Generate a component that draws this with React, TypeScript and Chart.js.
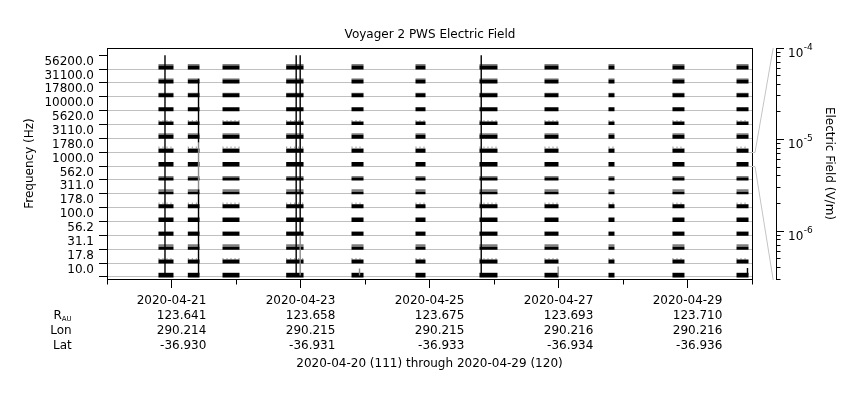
import React, { useEffect, useRef } from 'react';
import { Chart, registerables } from 'chart.js';

Chart.register(...registerables);
Chart.defaults.font.family = "'DejaVu Sans', sans-serif";
Chart.defaults.font.size = 12;
Chart.defaults.color = '#000';

// ---------------- data ----------------
const freqLabels = ['10.0', '17.8', '31.1', '56.2', '100.0', '178.0', '311.0', '562.0', '1000.0', '1780.0', '3110.0', '5620.0', '10000.0', '17800.0', '31100.0', '56200.0'];
// times in days since 2020-04-20 00:00
const burstStart = [0.798, 1.253, 1.791, 2.778, 3.791, 4.783, 5.775, 6.783, 7.775, 8.767, 9.760];
const burstEnd = [1.031, 1.434, 2.054, 3.047, 3.977, 4.938, 6.054, 7.000, 7.868, 8.953, 9.946];
// impulsive spikes: day, from band, to band, shade
const spikeDay = [0.899, 1.419, 1.419, 1.419, 2.933, 2.995, 2.995, 5.802, 3.915, 6.995, 9.930];
const spikeFrom = [0.0, 0.1, 6.3, 9.7, 0.1, 3.0, 0.1, 0.1, 0.1, 0.1, 0.1];
const spikeTo = [16.0, 6.3, 9.7, 14.3, 16.0, 16.0, 3.0, 16.0, 0.6, 0.75, 0.65];
const spikeShade = ['k', 'k', 'g', 'k', 'k', 'k', 'g', 'k', 'g', 'g', 'k'];
const dayTicks = [1, 3, 5, 7, 9];
const dayLabels = ['2020-04-21', '2020-04-23', '2020-04-25', '2020-04-27', '2020-04-29'];
const minorDays = [0, 2, 4, 6, 8, 10];
const rAU = ['123.641', '123.658', '123.675', '123.693', '123.710'];
const lonVals = ['290.214', '290.215', '290.215', '290.216', '290.216'];
const latVals = ['-36.930', '-36.931', '-36.933', '-36.934', '-36.936'];
const footerText = '2020-04-20 (111) through 2020-04-29 (120)';
const cbMajor = [1e-4, 1e-5, 1e-6];
const cbExp = ['-4', '-5', '-6'];
const cbMin = 3e-7;
const cbMax = 1e-4;
const wedgeLow = 8;
const wedgeHigh = 9;

// per-channel trace look (black core thickness, gray fringe, dotted fringe), bottom channel first
const chanStyle = [
  { k: 4.5, g: 0.5, d: false },
  { k: 4, g: 0, d: true },
  { k: 3, g: 2.5, d: false },
  { k: 4, g: 0.5, d: false },
  { k: 4, g: 1, d: false },
  { k: 4, g: 0, d: true },
  { k: 2.5, g: 2.5, d: false },
  { k: 3, g: 1.5, d: false },
  { k: 4.5, g: 0, d: false },
  { k: 4, g: 0.5, d: true },
  { k: 4, g: 1.5, d: false },
  { k: 3.5, g: 0, d: true },
  { k: 4, g: 0, d: false },
  { k: 4, g: 0.5, d: false },
  { k: 4, g: 1, d: false },
  { k: 4, g: 1.5, d: false },
];

const PX_PER_BAND = 13.857;

function buildDatasets(): any[] {
  const ds: any[] = [];
  const base = { pointRadius: 0, borderCapStyle: 'butt', spanGaps: false, tension: 0, fill: false, xAxisID: 'x', yAxisID: 'y' };
  const seg = (yv: number) =>
    burstStart.flatMap((s, i) => [
      { x: s, y: yv },
      { x: burstEnd[i], y: yv },
      { x: burstEnd[i], y: null },
    ]);
  const spikes = (shade: string) =>
    spikeDay.flatMap((d, i) =>
      spikeShade[i] === shade
        ? [
            { x: d, y: spikeFrom[i] },
            { x: d, y: spikeTo[i] },
            { x: d, y: null },
          ]
        : []
    );
  ds.push({ ...base, data: spikes('k'), borderColor: '#000', borderWidth: 1.4 });
  ds.push({ ...base, data: spikes('g'), borderColor: '#8a8a8a', borderWidth: 1.4 });
  chanStyle.forEach((st, c) => {
    ds.push({ ...base, data: seg(c + (st.k / 2 - 0.5) / PX_PER_BAND), borderColor: '#000', borderWidth: st.k });
    if (st.g > 0) {
      ds.push({ ...base, data: seg(c + (st.k + st.g / 2 - 0.5) / PX_PER_BAND), borderColor: '#808080', borderWidth: st.g });
    }
    if (st.d) {
      ds.push({ ...base, data: seg(c + (st.k + st.g + 0.3) / PX_PER_BAND), borderColor: '#9a9a9a', borderWidth: 1.6, borderDash: [1, 3] });
    }
  });
  return ds;
}

const al = (p: number) => Math.round(p - 0.5) + 0.5;

const decor = {
  id: 'decor',
  afterDraw(chart: any) {
    const { ctx, chartArea: a, scales } = chart;
    const x = scales.x;
    const y = scales.y;
    const cb = scales.cb;
    ctx.save();
    ctx.lineWidth = 1;
    ctx.strokeStyle = '#000';
    ctx.strokeRect(al(a.left), al(a.top), Math.round(a.right - a.left), Math.round(a.bottom - a.top));
    // short day ticks
    ctx.beginPath();
    minorDays.forEach((d) => {
      const px = al(x.getPixelForValue(d));
      ctx.moveTo(px, a.bottom);
      ctx.lineTo(px, a.bottom + 5.5);
    });
    ctx.stroke();
    // colour bar wedge
    const cbx = al(cb.left);
    const stripL = cbx - 3.3;
    ctx.strokeStyle = '#c4c4c4';
    ctx.beginPath();
    const yh = al(y.getPixelForValue(wedgeHigh));
    const yl = al(y.getPixelForValue(wedgeLow));
    ctx.moveTo(a.right, yh);
    ctx.lineTo(a.right + 3, yh);
    ctx.lineTo(stripL, a.top);
    ctx.moveTo(a.right, yl);
    ctx.lineTo(a.right + 3, yl);
    ctx.lineTo(stripL, a.bottom + 1);
    ctx.stroke();
    // colour bar minor ticks
    ctx.strokeStyle = '#000';
    ctx.beginPath();
    for (let e = -7; e <= -5; e++) {
      for (let m = 2; m <= 9; m++) {
        const v = m * Math.pow(10, e);
        if (v < cbMin || v > cbMax) continue;
        const py = al(cb.getPixelForValue(v));
        ctx.moveTo(cbx, py);
        ctx.lineTo(cbx + 4, py);
      }
    }
    ctx.stroke();
    // colour bar labels
    ctx.fillStyle = '#000';
    ctx.textBaseline = 'alphabetic';
    ctx.textAlign = 'left';
    cbMajor.forEach((v, i) => {
      const py = cb.getPixelForValue(v);
      const bx = cbx + 11.5;
      ctx.font = "12px 'DejaVu Sans'";
      ctx.fillText('10', bx, py + 8.7);
      const w = ctx.measureText('10').width;
      ctx.font = "9px 'DejaVu Sans'";
      ctx.fillText(cbExp[i], bx + w + 0.5, py + 1.8);
    });
    // ephemeris table
    ctx.font = "12px 'DejaVu Sans'";
    ctx.textAlign = 'right';
    const rows = [rAU, lonVals, latVals];
    const baseY = [a.bottom + 40, a.bottom + 54.8, a.bottom + 69.5];
    dayTicks.forEach((d, i) => {
      const px = x.getPixelForValue(d);
      const right = px + ctx.measureText(dayLabels[i]).width / 2;
      rows.forEach((r, j) => ctx.fillText(r[i], right, baseY[j]));
    });
    const lx = a.left - 35.3;
    ctx.fillText('Lon', lx, baseY[1]);
    ctx.fillText('Lat', lx, baseY[2]);
    ctx.font = "7px 'DejaVu Sans'";
    const wAU = ctx.measureText('AU').width;
    ctx.fillText('AU', lx, baseY[0] + 2);
    ctx.font = "12px 'DejaVu Sans'";
    ctx.fillText('R', lx - wAU, baseY[0]);
    ctx.textAlign = 'center';
    ctx.fillText(footerText, (a.left + a.right) / 2, a.bottom + 88.2);
    ctx.restore();
  },
};

export default function App() {
  const ref = useRef<HTMLCanvasElement>(null);
  useEffect(() => {
    document.body.style.margin = '0';
    const chart = new Chart(ref.current as HTMLCanvasElement, {
      type: 'line',
      data: { datasets: buildDatasets() },
      plugins: [decor],
      options: {
        responsive: false,
        animation: false,
        devicePixelRatio: 1,
        layout: { padding: 0 },
        plugins: {
          legend: { display: false },
          tooltip: { enabled: false },
          title: {
            display: true,
            text: 'Voyager 2 PWS Electric Field',
            color: '#000',
            font: { size: 12, weight: 'normal' },
            padding: { top: 28, bottom: 5.6 },
          },
        },
        scales: {
          x: {
            type: 'linear',
            position: 'bottom',
            min: 0,
            max: 10,
            afterBuildTicks: (s: any) => {
              s.ticks = dayTicks.map((v) => ({ value: v }));
            },
            ticks: { autoSkip: false, maxRotation: 0, padding: 6, color: '#000', callback: (_v: any, i: number) => dayLabels[i] },
            grid: { drawOnChartArea: false, tickLength: 9, tickColor: '#000' },
            border: { color: '#000' },
            afterFit: (s: any) => {
              s.height = 121;
            },
          },
          y: {
            type: 'linear',
            position: 'left',
            min: -0.15,
            max: 16.52,
            afterBuildTicks: (s: any) => {
              s.ticks = freqLabels.map((_f, i) => ({ value: i + 0.5 }));
            },
            ticks: { autoSkip: false, padding: 5, labelOffset: -0.5, color: '#000', callback: (_v: any, i: number) => freqLabels[i] },
            grid: {
              offset: true,
              color: (c: any) => (c.type === 'tick' ? '#c0c0c0' : 'rgba(0,0,0,0)'),
              tickColor: '#000',
              tickLength: 8,
            },
            border: { color: '#000' },
            title: { display: true, text: 'Frequency (Hz)', color: '#000', padding: { top: 22.8, bottom: 0 } },
            afterFit: (s: any) => {
              s.width = 107;
            },
          },
          sp: {
            type: 'linear',
            position: 'right',
            weight: 0,
            grid: { display: false },
            border: { display: false },
            ticks: { display: false },
            afterFit: (s: any) => {
              s.width = 24;
            },
          },
          cb: {
            type: 'logarithmic',
            position: 'right',
            weight: 1,
            min: cbMin,
            max: cbMax,
            afterBuildTicks: (s: any) => {
              s.ticks = cbMajor.map((v) => ({ value: v }));
            },
            ticks: { display: false },
            grid: { drawOnChartArea: false, tickLength: 8, tickColor: '#000' },
            border: { color: '#000' },
            title: { display: true, text: 'Electric Field (V/m)', color: '#000', padding: { top: 23.8, bottom: 0 } },
            afterFit: (s: any) => {
              s.width = 84;
            },
          },
        },
      } as any,
    });
    return () => chart.destroy();
  }, []);
  return (
    <div style={{ width: 860, height: 400 }}>
      <canvas ref={ref} width={860} height={400} style={{ display: 'block' }} />
    </div>
  );
}
